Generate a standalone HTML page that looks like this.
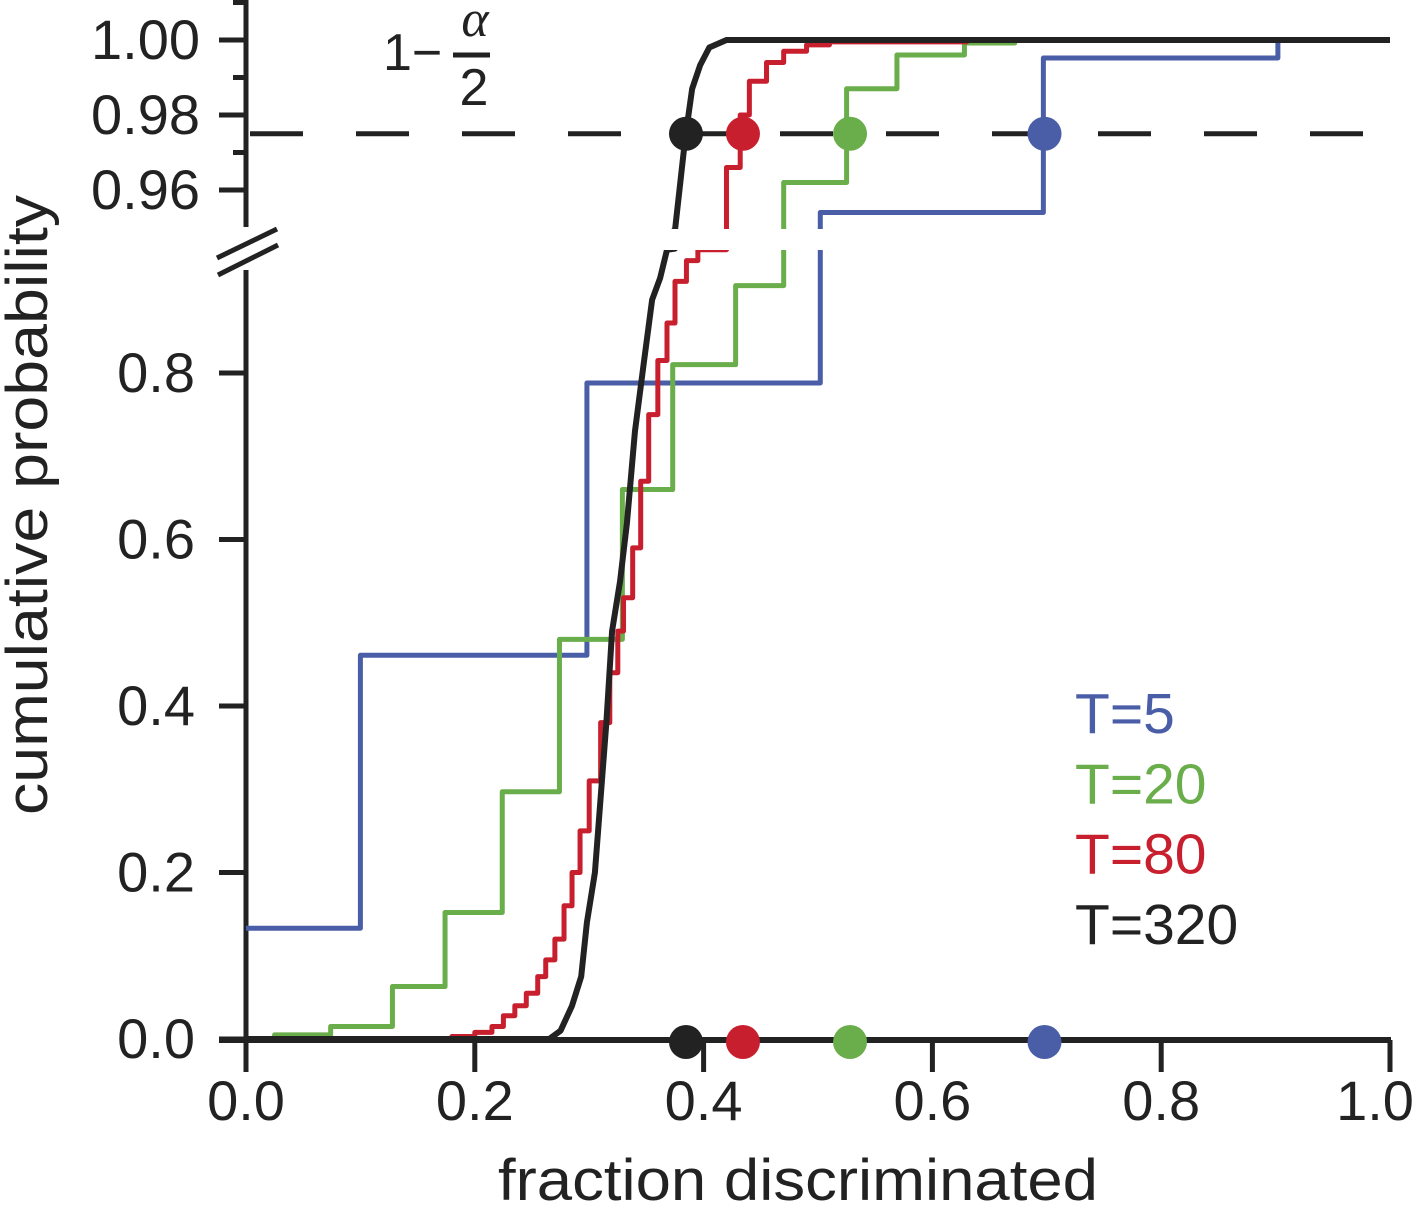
<!DOCTYPE html>
<html><head><meta charset="utf-8"><style>
html,body{margin:0;padding:0;background:#fff;overflow:hidden;width:1417px;height:1207px;}
svg{display:block;font-family:"Liberation Sans",sans-serif;}
</style></head><body>
<svg id="chart" width="1417" height="1207" viewBox="0 0 1417 1207" xmlns="http://www.w3.org/2000/svg">
<defs>
<clipPath id="clipLow"><rect x="200" y="250" width="1217" height="800"/></clipPath>
<clipPath id="clipUp"><rect x="200" y="0" width="1217" height="229"/></clipPath>
</defs>
<g id="axes"></g>
<g id="series"></g>
<g id="labels"></g>
</svg>
<script>
// ---- data ----
const seriesNames = ["T=5","T=20","T=80","T=320"];
const seriesColors = ["#4a5ea8","#6aad4b","#c81f2e","#222222"];
const t5X = [0.0, 0.10, 0.298, 0.502, 0.697, 0.902, 1.0];
const t5Y = [0.133, 0.461, 0.788, 0.954, 0.9952, 1.0, 1.0];
const t20X = [0.0, 0.025, 0.074, 0.128, 0.174, 0.224, 0.274, 0.329, 0.373, 0.428, 0.470, 0.525, 0.569, 0.628, 0.672, 1.0];
const t20Y = [0.0, 0.005, 0.015, 0.063, 0.152, 0.297, 0.48, 0.66, 0.81, 0.905, 0.962, 0.987, 0.996, 0.9992, 1.0, 1.0];
const t80X = [0.0, 0.18, 0.20, 0.215, 0.225, 0.235, 0.245, 0.255, 0.262, 0.27, 0.278, 0.285, 0.292, 0.30, 0.31, 0.318, 0.325, 0.33, 0.338, 0.345, 0.352, 0.36, 0.368, 0.375, 0.385, 0.395, 0.42, 0.432, 0.44, 0.455, 0.47, 0.49, 0.51, 0.63, 1.0];
const t80Y = [0.0, 0.003, 0.008, 0.015, 0.028, 0.04, 0.055, 0.075, 0.095, 0.12, 0.16, 0.2, 0.25, 0.31, 0.38, 0.44, 0.49, 0.53, 0.59, 0.67, 0.75, 0.815, 0.86, 0.91, 0.935, 0.948, 0.966, 0.98, 0.989, 0.994, 0.997, 0.9987, 0.9995, 1.0, 1.0];
const t320X = [0.0, 0.265, 0.275, 0.285, 0.293, 0.298, 0.305, 0.31, 0.315, 0.32, 0.327, 0.333, 0.340, 0.348, 0.355, 0.362, 0.368, 0.375, 0.384, 0.390, 0.397, 0.405, 0.42, 1.0];
const t320Y = [0.0, 0.0, 0.01, 0.04, 0.075, 0.14, 0.2, 0.29, 0.38, 0.49, 0.55, 0.62, 0.73, 0.815, 0.888, 0.914, 0.948, 0.9493, 0.974, 0.987, 0.9933, 0.998, 1.0, 1.0];
const critX = [0.698, 0.528, 0.4344, 0.3846];
const alphaLevel = 0.975;
const xTicks = [0.0, 0.2, 0.4, 0.6, 0.8, 1.0];
const xTickLabels = ["0.0","0.2","0.4","0.6","0.8","1.0"];
const yLowTicks = [0.0, 0.2, 0.4, 0.6, 0.8];
const yLowLabels = ["0.0","0.2","0.4","0.6","0.8"];
const yUpTicks = [0.96, 0.98, 1.00];
const yUpLabels = ["0.96","0.98","1.00"];
const yUpMinor = [0.97, 0.99, 1.01];

// ---- scales ----
const X = v => 246 + v * 1144;
const YL = v => 1039 - v * 832.5;
const YU = v => 40 + (1 - v) * 3750;
const NS = "http://www.w3.org/2000/svg";
function mk(tag, attrs, parent){ const e=document.createElementNS(NS,tag); for(const k in attrs) e.setAttribute(k,attrs[k]); parent.appendChild(e); return e; }
const axes=document.getElementById('axes'), ser=document.getElementById('series'), lab=document.getElementById('labels');

let dl = mk('line',{x1:250,x2:1390,y1:YU(alphaLevel),y2:YU(alphaLevel),stroke:'#222','stroke-width':5,'stroke-dasharray':'53 53'},axes);



function pathStep(xs, ys, Y){ let d=`M${X(xs[0])},${Y(ys[0])}`; for(let i=1;i<xs.length;i++){ d+=` L${X(xs[i])},${Y(ys[i-1])} L${X(xs[i])},${Y(ys[i])}`; } return d; }
function pathLine(xs, ys, Y){ return xs.map((x,i)=>(i?'L':'M')+X(x)+','+Y(ys[i])).join(' '); }
const allX=[t5X,t20X,t80X,t320X], allY=[t5Y,t20Y,t80Y,t320Y];
for(let s=0;s<4;s++){
  const fn = s===3 ? pathLine : pathStep;
  [['clipLow',YL,'lower'],['clipUp',YU,'upper']].forEach(([cp,Y,part])=>{
    const p = mk('path',{d:fn(allX[s],allY[s],Y),fill:'none',stroke:seriesColors[s],'stroke-width':s===3?6:5,'stroke-linejoin':'round','clip-path':`url(#${cp})`},ser);
    
    
  });
}

let a;
a=mk('line',{x1:246,x2:246,y1:0,y2:227,stroke:'#222','stroke-width':5},axes);
 
a=mk('line',{x1:246,x2:246,y1:270,y2:1041,stroke:'#222','stroke-width':5},axes);
 
a=mk('line',{x1:219,x2:1391,y1:1040,y2:1040,stroke:'#222','stroke-width':6},axes);
 
a=mk('line',{x1:217,y1:258,x2:277,y2:229,stroke:'#222','stroke-width':5},axes);
 
a=mk('line',{x1:218,y1:275,x2:278,y2:245,stroke:'#222','stroke-width':5},axes);
 

xTicks.forEach((v,i)=>{
  const t=mk('line',{x1:X(v),x2:X(v),y1:1040,y2:1072,stroke:'#222','stroke-width':5},axes);
   
  const l=mk('text',{x:Math.min(X(v),1375),y:1120,'font-size':56,'text-anchor':'middle',fill:'#222'},lab);
  l.textContent=xTickLabels[i];
   
});
yLowTicks.forEach((v,i)=>{
  const t=mk('line',{x1:219,x2:246,y1:YL(v),y2:YL(v),stroke:'#222','stroke-width':5},axes);
   
  const l=mk('text',{x:195,y:YL(v)+19,'font-size':56,'text-anchor':'end',fill:'#222'},lab);
  l.textContent=yLowLabels[i];
   
});
yUpTicks.forEach((v,i)=>{
  const t=mk('line',{x1:219,x2:246,y1:YU(v),y2:YU(v),stroke:'#222','stroke-width':5},axes);
   
  const l=mk('text',{x:200,y:YU(v)+19,'font-size':56,'text-anchor':'end',fill:'#222'},lab);
  l.textContent=yUpLabels[i];
   
});
yUpMinor.forEach(v=>{
  const t=mk('line',{x1:233,x2:246,y1:YU(v),y2:YU(v),stroke:'#222','stroke-width':5},axes);
   
});

for(let s=0;s<4;s++){
  const c1=mk('circle',{cx:X(critX[s]),cy:YU(alphaLevel),r:17,fill:seriesColors[s]},ser);
  
  
  const c2=mk('circle',{cx:X(critX[s]),cy:1042,r:17,fill:seriesColors[s]},ser);
  
  
}

for(let s=0;s<4;s++){
  const l=mk('text',{x:1075,y:733+s*70.3,'font-size':57,fill:seriesColors[s]},lab);
  l.textContent=seriesNames[s];
  
  
}

let t=mk('text',{x:798,y:1200,'font-size':58,'text-anchor':'middle',fill:'#222',textLength:600,lengthAdjust:'spacingAndGlyphs'},lab);
t.textContent='fraction discriminated';
 
t=mk('text',{x:0,y:0,'font-size':58,'text-anchor':'middle',fill:'#222',textLength:620,lengthAdjust:'spacingAndGlyphs',transform:'translate(47,505) rotate(-90)'},lab);
t.textContent='cumulative probability';
 
t=mk('text',{x:383,y:70,'font-size':52,fill:'#222'},lab);
t.textContent='1−';
 
t=mk('text',{x:475,y:36,'font-size':52,'text-anchor':'middle',fill:'#222','font-family':'Liberation Serif, serif','font-style':'italic'},lab);
t.textContent='α';
 
t=mk('line',{x1:453,x2:490,y1:55,y2:55,stroke:'#222','stroke-width':5},lab);
 
t=mk('text',{x:474,y:105,'font-size':52,'text-anchor':'middle',fill:'#222'},lab);
t.textContent='2';
 
</script>
</body></html>
